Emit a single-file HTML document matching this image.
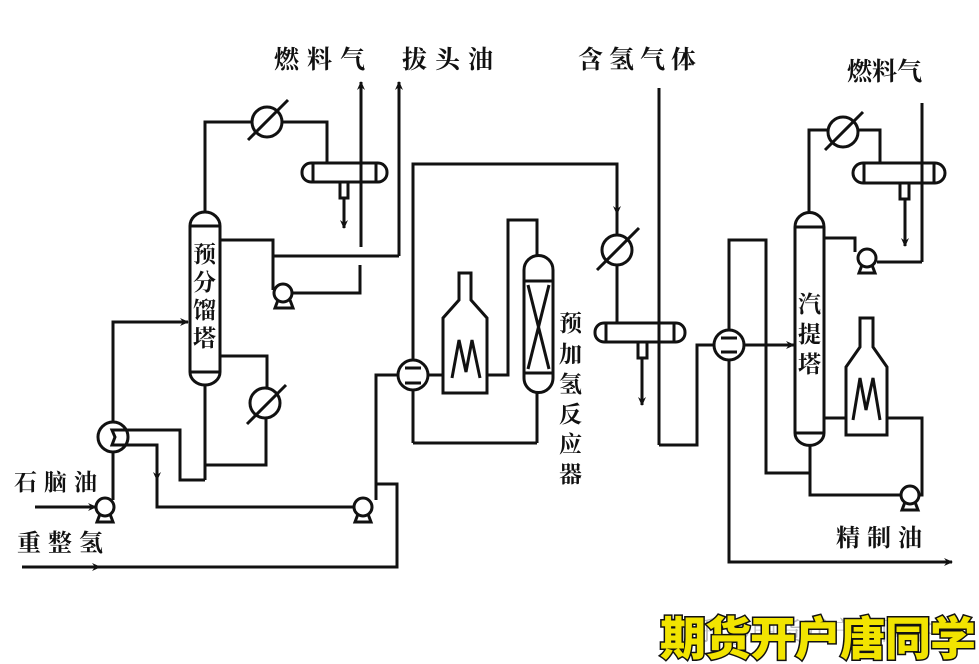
<!DOCTYPE html>
<html><head><meta charset="utf-8">
<style>
html,body{margin:0;padding:0;background:#fff;}
svg{display:block;}
text{font-family:"Liberation Serif","Noto Serif CJK SC",serif;font-weight:bold;fill:#111;}
</style></head><body>
<svg width="979" height="664" viewBox="0 0 979 664" xmlns="http://www.w3.org/2000/svg">
<defs>
<marker id="a" markerWidth="10" markerHeight="10" refX="8" refY="5" orient="auto" markerUnits="userSpaceOnUse">
<path d="M0,1 L9,5 L0,9 L3,5 Z" fill="#111"/></marker>
</defs>
<rect width="979" height="664" fill="#fff"/>
<g fill="none" stroke="#111" stroke-width="3" stroke-linejoin="miter">

<!-- ===== Left: pre-fractionator ===== -->
<!-- column -->
<path d="M190,226 A15,14 0 0 1 220,226 L220,372 A15,13 0 0 1 190,372 Z" fill="#fff"/>
<line x1="190" y1="226" x2="220" y2="226"/>
<line x1="190" y1="372" x2="220" y2="372"/>
<!-- overhead -->
<polyline points="205,212 205,122 252,122"/>
<circle cx="267" cy="122" r="15" fill="#fff"/>
<line x1="248" y1="140" x2="288" y2="100"/>
<polyline points="282,122 327,122 327,163"/>
<!-- drum 1 -->
<rect x="302" y="163" width="85" height="19" rx="9" fill="#fff"/>
<line x1="313" y1="163" x2="313" y2="182"/>
<line x1="376" y1="163" x2="376" y2="182"/>
<rect x="340" y="182" width="8" height="16" fill="#fff"/>
<line x1="344" y1="198" x2="344" y2="228" marker-end="url(#a)"/>
<!-- fuel gas & light naphtha -->
<line x1="361" y1="247" x2="361" y2="82" marker-end="url(#a)"/>
<line x1="399" y1="256" x2="399" y2="82" marker-end="url(#a)"/>
<!-- reflux -->
<polyline points="220,240 273,240 273,290"/>
<line x1="273" y1="256" x2="399" y2="256"/>
<polyline points="293,293 360,293 360,265"/>
<!-- feed into column -->
<polyline points="113,422 113,322 188,322" marker-end="url(#a)"/>
<!-- reboiler -->
<polyline points="220,356 267,356 267,388"/>
<circle cx="265" cy="403" r="15" fill="#fff"/>
<line x1="247" y1="424" x2="286" y2="385"/>
<polyline points="266,418 266,465 205,465"/>
<line x1="205" y1="385" x2="205" y2="480"/>
<polyline points="205,480 180,480 180,430 128,430"/>
<!-- feed/bottoms exchanger -->
<circle cx="113" cy="437" r="15" fill="#fff"/>
<path d="M128,430 L112,430 L115,437 L112,445 L128,445"/>
<polyline points="128,445 157,445 157,507 353,507"/>
<line x1="157" y1="466" x2="157" y2="480" marker-end="url(#a)"/>
<line x1="113" y1="452" x2="113" y2="500"/>
<!-- naphtha in -->
<line x1="35" y1="507" x2="96" y2="507" marker-end="url(#a)"/>
<!-- reforming hydrogen -->
<polyline points="22,567 397,567 397,484 376,484"/>
<line x1="60" y1="567" x2="100" y2="567" marker-end="url(#a)"/>
<polyline points="376,500 376,375 398,375"/>

<!-- ===== Middle: pre-hydrotreating ===== -->
<circle cx="413" cy="375" r="15" fill="#fff"/>
<line x1="405" y1="368" x2="421" y2="368"/>
<line x1="405" y1="383" x2="421" y2="383"/>
<polyline points="413,360 413,164 617,164 617,235"/>
<line x1="617" y1="200" x2="617" y2="214" marker-end="url(#a)"/>
<line x1="413" y1="390" x2="413" y2="443"/>
<line x1="413" y1="443" x2="537" y2="443"/>
<!-- furnace 1 -->
<path d="M459,273 L471,273 L471,300 L487,318 L487,393 L443,393 L443,318 L459,300 Z" fill="#fff"/>
<path d="M452,378 L459,340 L466,372 L472,340 L480,378"/>
<line x1="428" y1="375" x2="443" y2="375"/>
<polyline points="487,375 508,375 508,220 537,220 537,256"/>
<!-- reactor -->
<path d="M524,270 A14,14 0 0 1 553,270 L553,378 A14,14 0 0 1 524,378 Z" fill="#fff"/>
<line x1="524" y1="281" x2="553" y2="281"/>
<line x1="524" y1="373" x2="553" y2="373"/>
<line x1="528" y1="285" x2="549" y2="369"/>
<line x1="549" y1="285" x2="528" y2="369"/>
<line x1="537" y1="392" x2="537" y2="443"/>
<!-- cooler 2 -->
<circle cx="617" cy="250" r="15" fill="#fff"/>
<line x1="597" y1="270" x2="639" y2="228"/>
<line x1="617" y1="265" x2="617" y2="323"/>
<!-- drum 2 -->
<rect x="595" y="323" width="90" height="19" rx="9" fill="#fff"/>
<line x1="606" y1="323" x2="606" y2="342"/>
<line x1="674" y1="323" x2="674" y2="342"/>
<rect x="638" y="342" width="9" height="16" fill="#fff"/>
<line x1="642" y1="358" x2="642" y2="405" marker-end="url(#a)"/>
<!-- hydrogen-containing gas -->
<line x1="659" y1="88" x2="659" y2="445"/>
<polyline points="659,445 697,445 697,345 714,345"/>

<!-- ===== Right: stripper ===== -->
<circle cx="729" cy="345" r="15" fill="#fff"/>
<line x1="721" y1="338" x2="737" y2="338"/>
<line x1="721" y1="352" x2="737" y2="352"/>
<line x1="744" y1="345" x2="794" y2="345" marker-end="url(#a)"/>
<polyline points="729,330 729,240 766,240 766,473 810,473"/>
<polyline points="729,360 729,562 952,562" marker-end="url(#a)"/>
<!-- column -->
<path d="M795,227 A14,14 0 0 1 824,227 L824,433 A14,12 0 0 1 795,433 Z" fill="#fff"/>
<line x1="795" y1="227" x2="824" y2="227"/>
<line x1="795" y1="433" x2="824" y2="433"/>
<!-- overhead -->
<polyline points="809,213 809,130 828,130"/>
<circle cx="843" cy="132" r="15" fill="#fff"/>
<line x1="825" y1="150" x2="863" y2="112"/>
<polyline points="858,130 880,130 880,163"/>
<rect x="853" y="163" width="92" height="20" rx="10" fill="#fff"/>
<line x1="864" y1="163" x2="864" y2="183"/>
<line x1="934" y1="163" x2="934" y2="183"/>
<rect x="900" y="183" width="9" height="16" fill="#fff"/>
<line x1="905" y1="199" x2="905" y2="246" marker-end="url(#a)"/>
<polyline points="922,262 922,103"/>
<line x1="877" y1="262" x2="922" y2="262"/>
<polyline points="824,238 855,238 855,252"/>
<!-- bottoms/reboiler -->
<polyline points="810,446 810,495 900,495"/>
<polyline points="920,495 922,495 922,418 824,418"/>
<path d="M860,318 L873,318 L873,347 L887,367 L887,435 L846,435 L846,367 L860,347 Z" fill="#fff"/>
<path d="M853,420 L860,378 L866,410 L873,378 L880,420"/>
</g>
<!-- pumps -->
<g fill="#fff" stroke="#111" stroke-width="3">
<path d="M278,300 L275,308 L293,308 L290,300"/>
<circle cx="283" cy="293" r="9"/>
<path d="M100,514 L97,522 L113,522 L110,514"/>
<circle cx="105" cy="507" r="9"/>
<path d="M358,514 L355,522 L371,522 L368,514"/>
<circle cx="363" cy="507" r="9"/>
<path d="M862,265 L859,273 L875,273 L872,265"/>
<circle cx="867" cy="258" r="9"/>
<path d="M905,502 L902,510 L918,510 L915,502"/>
<circle cx="910" cy="495" r="9"/>
</g>
<!-- labels -->
<text x="274" y="68" font-size="25" letter-spacing="8">燃料气</text>
<text x="402" y="68" font-size="25" letter-spacing="8">拔头油</text>
<text x="578" y="68" font-size="25" letter-spacing="6">含氢气体</text>
<text x="847" y="80" font-size="25">燃料气</text>
<text x="14" y="490" font-size="23" letter-spacing="7">石脑油</text>
<text x="17" y="551" font-size="24" letter-spacing="7">重整氢</text>
<text x="836" y="546" font-size="24" letter-spacing="7">精制油</text>
<g font-size="23">
<text x="193" y="262">预</text><text x="193" y="290">分</text><text x="193" y="318">馏</text><text x="193" y="346">塔</text>
<text x="559" y="331">预</text><text x="559" y="362">加</text><text x="559" y="392">氢</text><text x="559" y="422">反</text><text x="559" y="452">应</text><text x="559" y="482">器</text>
<text x="798" y="312">汽</text><text x="798" y="342">提</text><text x="798" y="372">塔</text>
</g>
<text x="668" y="640" font-size="26" style="fill:#bbb;font-weight:normal">知乎 @期货开户唐同学</text>
<text x="660" y="655" font-size="46" letter-spacing="-1" style="fill:#f2e400;stroke:#111;stroke-width:3;paint-order:stroke;font-family:'Liberation Sans','Noto Sans CJK SC',sans-serif;font-weight:900">期货开户唐同学</text>
</svg>
</body></html>
